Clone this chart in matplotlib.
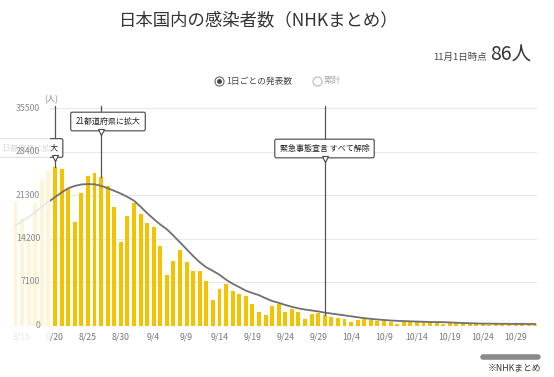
import numpy as np
import matplotlib
matplotlib.use("Agg")
import matplotlib.pyplot as plt
from matplotlib.patches import Rectangle
from matplotlib.lines import Line2D

plt.rcParams['font.family'] = ['Noto Sans CJK JP', 'DejaVu Sans']

# daily new cases, 8/14 .. 11/1 (index 0 = 8/20)
first_day = -6
cases = [20150, 17580, 14100, 19900, 23900, 25150,
         25880, 25500, 22290, 16840, 21570, 24320, 24960, 24170, 22750, 19290, 13640, 17800,
         20030, 18140, 16760, 16070, 12940, 8230, 10450, 12400, 10380, 8880,
         8870, 7220, 4170, 6020, 6790, 5690, 5090, 4840, 3500, 2230,
         1770, 3240, 3580, 2180, 2700, 2180, 1140, 1900, 1960, 1690,
         1410, 1250, 980, 520, 900, 1000, 900, 790, 730, 520,
         250, 730, 730, 620, 620, 520, 440, 200, 370, 390,
         340, 330, 290, 260, 150, 310, 300, 270, 280, 220,
         190, 86]
# 7-day average line
avg7 = [16300, 17000, 17700, 18500, 19400, 20170,
        20950, 21720, 22390, 22780, 23020, 23080, 23050, 22800, 22410, 21980, 21530, 20990,
        20380, 19400, 18340, 17390, 16480, 15710, 14660, 13570, 12460, 11340,
        10310, 9490, 8910, 8280, 7480, 6810, 6270, 5690, 5300, 4950,
        4450, 4000, 3700, 3350, 3050, 2800, 2600, 2450, 2300, 2100,
        1950, 1800, 1650, 1500, 1350, 1200, 1080, 980, 900, 820,
        760, 720, 680, 640, 610, 570, 560, 550, 500, 450,
        410, 370, 340, 310, 300, 290, 280, 270, 265, 255,
        245, 235]
days = np.arange(first_day, first_day + len(cases))

xtick_pos = list(range(-5, 71, 5))
xtick_labels = ["8/15", "8/20", "8/25", "8/30", "9/4", "9/9", "9/14", "9/19", "9/24",
                "9/29", "10/4", "10/9", "10/14", "10/19", "10/24", "10/29"]
yticks = [0, 7100, 14200, 21300, 28400, 35500]

events = [(0, "13都府県に拡大"), (7, "21都道府県に拡大"), (41, "緊急事態宣言 すべて解除")]

W, H = 554, 377
fig = plt.figure(figsize=(W / 100, H / 100), dpi=100)

# pixel helpers
x0, dx = 55, 6.58
y0, dy = 325.5, 6.127 / 1000


def px2x(px):
    return (px - x0) / dx


def py2y(py):
    return (y0 - py) / dy


left_px, right_px, top_px = 10, 537, 108
ax = fig.add_axes([left_px / W, (H - y0) / H, (right_px - left_px) / W, (y0 - top_px) / H])
ax.set_xlim(px2x(left_px), px2x(right_px))
ax.set_ylim(0, 35500)
ax.axis("off")

# grid
ax.hlines(yticks[1:], px2x(43), px2x(537), color="#e8e8e8", lw=0.8, zorder=1)
ax.hlines(0, px2x(43), px2x(537), color="#d0d0d0", lw=0.8, zorder=1)

ax.bar(days, cases, width=0.6, color="#f5c200", zorder=2)
ax.plot(days, avg7, color="#707070", lw=1.3, zorder=3)

# event lines and labels
for d, txt in events:
    top = cases[d - first_day]
    ax.plot([d, d], [top, 35800], color="#555555", lw=0.9, zorder=4, clip_on=False)

box = dict(boxstyle="round,pad=0.6,rounding_size=0.2", fc="white", ec="#444444", lw=0.8)
ax.text(px2x(108), py2y(121.5), events[1][1], ha="center", va="center", fontsize=5.8,
        color="#222222", bbox=box, zorder=5)
ax.text(px2x(324.5), py2y(148.5), events[2][1], ha="center", va="center", fontsize=5.8,
        color="#222222", bbox=box, zorder=5)
ax.text(px2x(58), py2y(148), events[0][1], ha="right", va="center", fontsize=5.8,
        color="#222222", bbox=box, zorder=5, clip_on=False)
for d, py in [(0, 158), (7, 131.5), (41, 158.5)]:
    ax.plot([d], [py2y(py)], marker="v", ms=4.5, mfc="white", mec="#444444", mew=0.8,
            zorder=6, clip_on=False)

# x labels
for p, lab in zip(xtick_pos, xtick_labels):
    ax.text(p, py2y(337), lab, ha="center", va="center", fontsize=6.3, color="#777777",
            zorder=7, clip_on=False)

# left fade (from the figure edge to just before 8/20)
fade_l = -left_px / (right_px - left_px)
fade_r = (50 - left_px) / (right_px - left_px)
ax.add_patch(Rectangle((fade_l, -0.12), fade_r - fade_l, 1.2,
                       transform=ax.transAxes, fc="white", ec="none", alpha=0.84,
                       zorder=10, clip_on=False))

# y labels
for v in yticks:
    ax.text(px2x(40), v, str(v), ha="right", va="center", fontsize=6.3, color="#888888",
            zorder=20, clip_on=False)
fig.text(51 / W, 1 - 100 / H, "(人)", ha="center", va="center", fontsize=6, color="#888888")

# header
fig.text(259 / W, 1 - 20 / H, "日本国内の感染者数（NHKまとめ）", ha="center", va="center",
         fontsize=12.5, color="#333333")
fig.text(487 / W, 1 - 57 / H, "11月1日時点", ha="right", va="center", fontsize=6.8,
         color="#444444")
fig.text(490 / W, 1 - 55 / H, "86人", ha="left", va="center", fontsize=14,
         color="#333333")

# radio legend
fig.add_artist(Line2D([219 / W], [1 - 81 / H], marker="o", ms=6.5, mfc="white",
                      mec="#666666", mew=0.8, transform=fig.transFigure))
fig.add_artist(Line2D([219 / W], [1 - 81 / H], marker="o", ms=2.5, mfc="#444444",
                      mec="#444444", transform=fig.transFigure))
fig.text(226 / W, 1 - 81 / H, "1日ごとの発表数", ha="left", va="center", fontsize=6.3,
         color="#444444")
fig.add_artist(Line2D([317 / W], [1 - 81 / H], marker="o", ms=6.5, mfc="white",
                      mec="#bbbbbb", mew=0.8, transform=fig.transFigure))
fig.text(324 / W, 1 - 81 / H, "累計", ha="left", va="center", fontsize=6.3,
         color="#aaaaaa")

# scrollbar and source
fig.add_artist(Line2D([483 / W, 538 / W], [1 - 357 / H, 1 - 357 / H], lw=4,
                      color="#8a8a8a", solid_capstyle="round", transform=fig.transFigure))
fig.text(541 / W, 1 - 368 / H, "※NHKまとめ", ha="right", va="center", fontsize=6.3,
         color="#333333")

fig.savefig("out.png", dpi=100)
